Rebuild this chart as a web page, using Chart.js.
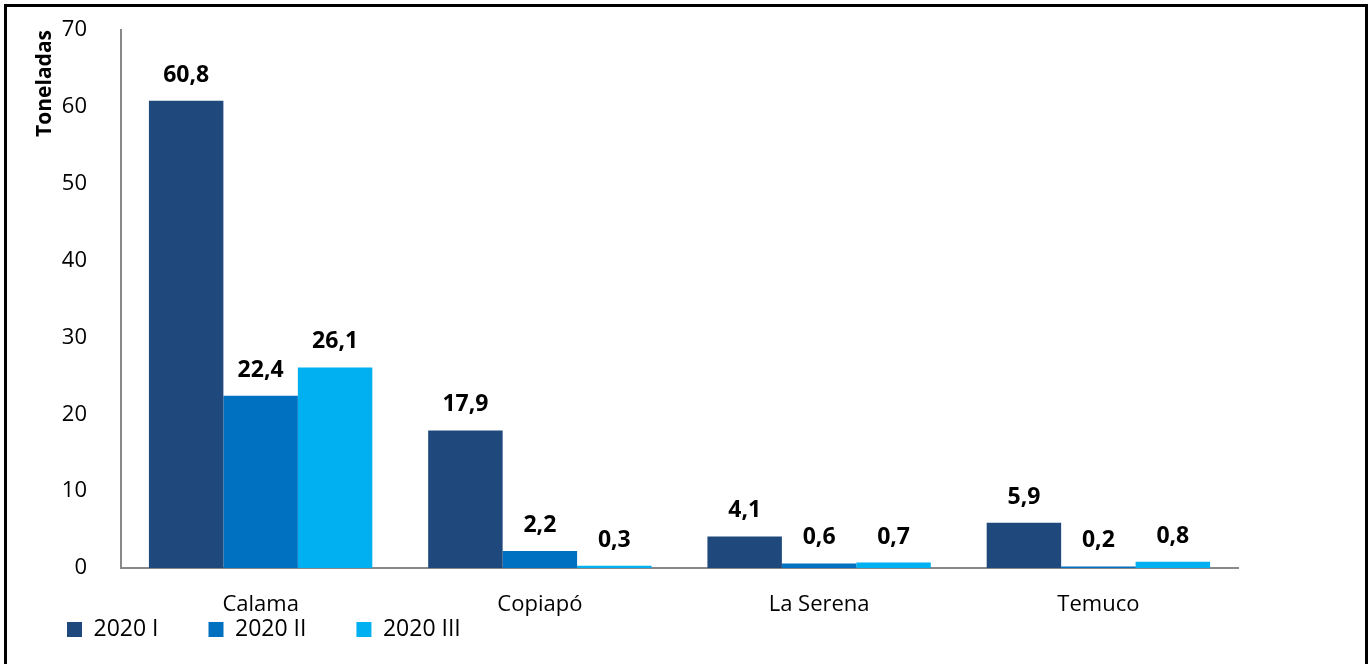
<!DOCTYPE html>
<html>
<head>
<meta charset="utf-8">
<script src="https://cdn.jsdelivr.net/npm/chart.js@4/dist/chart.umd.min.js"></script>
<style>
    body { margin: 0; background: #fff; }
    #wrap { position: relative; width: 1369px; height: 664px; overflow: hidden; }
    #frame { position: absolute; left: 4px; top: 4px; width: 1364px; height: 700px; border: 3px solid #000; box-sizing: border-box; pointer-events: none; }
</style>
</head>
<body>
<div id="wrap">
    <canvas id="toneladasGraph" width="1369" height="664"></canvas>
    <div id="frame"></div>
</div>
<script>
const ciudades = ['Calama', 'Copiapó', 'La Serena', 'Temuco'];
const periodos = ['2020 I', '2020 II', '2020 III'];
const valores2020I = [60.8, 17.9, 4.1, 5.9];
const valores2020II = [22.4, 2.2, 0.6, 0.2];
const valores2020III = [26.1, 0.3, 0.7, 0.8];
const colores = ['#1F497D', '#0070C0', '#00B0F0'];
const fontFamily = "'Open Sans', 'Liberation Sans', sans-serif";

// etiquetas de datos sobre cada barra
const etiquetasPlugin = {
    id: 'etiquetas',
    afterLayout(chart) {
        // el eje x se ajusta a altura 0 para que la leyenda suba; se le devuelve espacio para no recortar sus etiquetas
        const x = chart.scales.x;
        x.bottom = x.top + 60;
        x.height = 60;
    },
    afterDatasetsDraw(chart) {
        const ctx = chart.ctx;
        ctx.save();
        ctx.font = 'bold 23px ' + fontFamily;
        ctx.fillStyle = '#000';
        ctx.textAlign = 'center';
        ctx.textBaseline = 'alphabetic';
        chart.data.datasets.forEach(function(ds, i) {
            chart.getDatasetMeta(i).data.forEach(function(bar, j) {
                const txt = ds.data[j].toFixed(1).replace('.', ',');
                ctx.fillText(txt, bar.x, bar.y - 19);
            });
        });
        ctx.restore();
    }
};

const config = {
    type: 'bar',
    data: {
        labels: ciudades,
        datasets: [
            { label: periodos[0], data: valores2020I, backgroundColor: colores[0] },
            { label: periodos[1], data: valores2020II, backgroundColor: colores[1] },
            { label: periodos[2], data: valores2020III, backgroundColor: colores[2] }
        ]
    },
    options: {
        responsive: false,
        animation: false,
        events: [],
        layout: { padding: { left: 17, right: 131, top: 30, bottom: 13 } },
        datasets: {
            bar: {
                categoryPercentage: 0.8,
                barPercentage: 1.0,
                borderWidth: 0
            }
        },
        plugins: {
            legend: {
                position: 'bottom',
                align: 'start',
                labels: {
                    boxWidth: 15,
                    boxHeight: 15,
                    padding: 50,
                    color: '#000',
                    font: { family: fontFamily, size: 23, lineHeight: 1.0 }
                }
            },
            tooltip: { enabled: false }
        },
        scales: {
            x: {
                grid: { display: false },
                border: { display: true, color: '#898989', width: 2 },
                ticks: {
                    color: '#000',
                    padding: 16,
                    font: { family: fontFamily, size: 22 }
                },
                afterFit: function(scale) { scale.height = 0; }
            },
            y: {
                min: 0,
                max: 70,
                grid: { display: false },
                border: { display: true, color: '#898989', width: 2 },
                ticks: {
                    stepSize: 10,
                    color: '#000',
                    padding: 26,
                    font: { family: fontFamily, size: 22 }
                },
                title: {
                    display: true,
                    text: 'Toneladas',
                    align: 'end',
                    color: '#000',
                    padding: { top: 15, bottom: 0 },
                    font: { family: fontFamily, size: 21, weight: 'bold' }
                },
                afterFit: function(scale) {
                    scale.width = 104;
                    scale.paddingTop = 10;
                }
            }
        }
    },
    plugins: [etiquetasPlugin]
};

const toneladasCtx = document.getElementById('toneladasGraph');
const toneladasChart = new Chart(toneladasCtx, config);
</script>
</body>
</html>
